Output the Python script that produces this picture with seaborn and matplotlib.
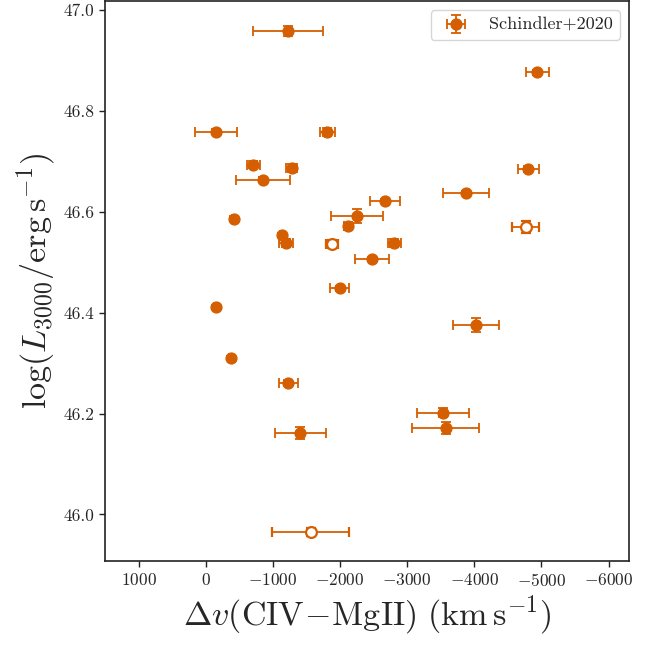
import numpy as np
import pandas as pd
import matplotlib
matplotlib.use("Agg")
import matplotlib.pyplot as plt
import seaborn as sns

# velocity shift CIV-MgII (km/s)
dv = [-1224, -4940, -154, -1810, -710, -1284, -4806, -851, -3881, -2672,
      -418, -2254, -2119, -4766, -1134, -1194, -1881, -2810, -2482, -1994,
      -149, -4019, -378, -1233, -3531, -3572, -1412, -1567]
dv_err = [525, 169, 318, 112, 97, 82, 154, 403, 340, 219,
          30, 382, 60, 199, 30, 100, 94, 100, 254, 137,
          30, 343, 30, 137, 388, 505, 381, 572]
log_l3000 = [46.958, 46.877, 46.759, 46.759, 46.693, 46.686, 46.685, 46.664, 46.637, 46.621,
             46.586, 46.591, 46.571, 46.569, 46.553, 46.538, 46.536, 46.538, 46.507, 46.448,
             46.412, 46.375, 46.311, 46.261, 46.202, 46.172, 46.161, 45.965]
log_l3000_err = [0.010, 0.005, 0.005, 0.008, 0.007, 0.008, 0.006, 0.004, 0.004, 0.004,
                 0.005, 0.014, 0.007, 0.012, 0.004, 0.008, 0.008, 0.008, 0.004, 0.005,
                 0.004, 0.014, 0.004, 0.005, 0.008, 0.012, 0.012, 0.008]
# open symbols in the reference
is_open = [False, False, False, False, False, False, False, False, False, False,
           False, False, False, True, False, False, True, False, False, False,
           False, False, False, False, False, False, False, True]

df = pd.DataFrame({
    "dv": dv, "dv_err": dv_err,
    "logL": log_l3000, "logL_err": log_l3000_err,
    "open": is_open,
})

sns.set_theme(style="ticks")
plt.rcParams["font.family"] = "serif"
plt.rcParams["font.serif"] = ["cmr10", "DejaVu Serif"]
plt.rcParams["mathtext.fontset"] = "cm"
plt.rcParams["axes.formatter.use_mathtext"] = True
plt.rcParams["axes.unicode_minus"] = True

color = sns.color_palette("colorblind")[3]

fig, ax = plt.subplots(figsize=(6.6, 6.45), dpi=100)
fig.subplots_adjust(left=0.159, right=0.9526, bottom=0.1298, top=0.9985)

closed = df[~df["open"]]
opened = df[df["open"]]

ax.errorbar(closed["dv"], closed["logL"], xerr=closed["dv_err"], yerr=closed["logL_err"],
            fmt="o", color=color, ms=7.8, elinewidth=1.3, capsize=3.5, capthick=1.3,
            label="Schindler+2020")
ax.errorbar(opened["dv"], opened["logL"], xerr=opened["dv_err"], yerr=opened["logL_err"],
            fmt="o", color=color, mfc="white", mec=color, mew=1.6, ms=7.8,
            elinewidth=1.3, capsize=3.5, capthick=1.3)

ax.set_xlim(1500, -6300)
ax.set_ylim(45.907, 47.018)
ax.set_xticks(np.arange(1000, -6001, -1000))
ax.set_yticks(np.arange(46.0, 47.01, 0.2))
ax.yaxis.set_major_formatter(matplotlib.ticker.FormatStrFormatter("%.1f"))

ax.tick_params(labelsize=12.5, length=4, width=1, color="#222222")
for sp in ax.spines.values():
    sp.set_linewidth(1.2)
    sp.set_color("#222222")

ax.set_xlabel(r"$\Delta v(\mathrm{CIV}\!-\!\mathrm{MgII})\ (\mathrm{km\,s^{-1}})$", fontsize=24.5)
ax.set_ylabel(r"$\log(L_{3000}/\mathrm{erg\,s^{-1}})$", fontsize=24.5)

ax.legend(loc="upper right", fontsize=13, frameon=True, fancybox=True, framealpha=0.8)

fig.savefig("out.png", dpi=100)
